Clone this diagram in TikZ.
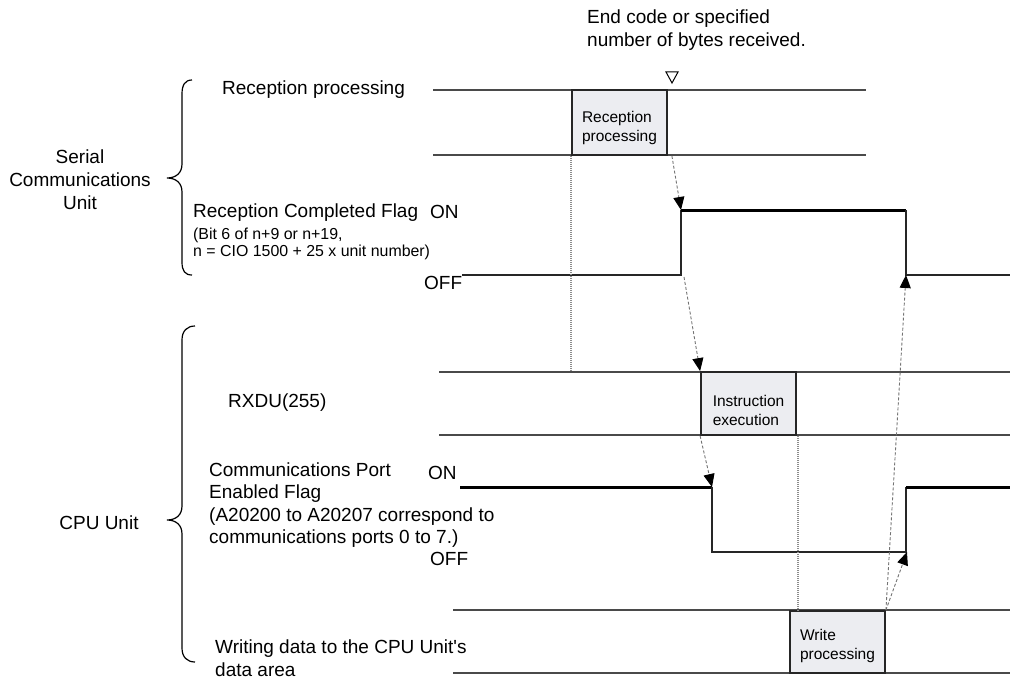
\documentclass[tikz,border=0pt]{standalone}
\usepackage{fontspec}
\setmainfont{Liberation Sans}
\newfontfamily\plainsans{Liberation Sans}
\usetikzlibrary{arrows.meta}
\definecolor{boxfill}{HTML}{ECEDF1}
\definecolor{lin}{HTML}{4A4A4A}
\begin{document}
\begin{tikzpicture}[x=1pt,y=-1pt,
  tl/.style={draw=lin, line width=1.4pt},
  sig/.style={draw=black!85, line width=1.4pt},
  hisig/.style={draw=black, line width=3pt},
  procbox/.style={draw=black!85, fill=boxfill, line width=1.8pt, minimum width=95pt, inner sep=0pt},
  boxtext/.style={font=\fontsize{15.5}{19}\selectfont, align=left, inner sep=0pt},
  lbl/.style={font=\fontsize{19}{22.5}\selectfont, inner sep=0pt, anchor=west, align=left},
  smalllbl/.style={font=\fontsize{15.9}{17}\selectfont, inner sep=0pt, anchor=west},
  darr/.style={draw=black!55, line width=0.9pt, dash pattern=on 3pt off 2pt, -{Triangle[length=13pt,width=11pt,color=black]}},
  dotl/.style={draw=black!45, line width=1.3pt, dash pattern=on 1pt off 1pt},
  brc/.style={draw=black, line width=1.2pt}
]
\useasboundingbox (0,0) rectangle (1012,682);
% signal coordinates
\coordinate (rcRise) at (681,210);
\coordinate (rcRiseLow) at (681,275);
\coordinate (rcFall) at (906,275);
\coordinate (cpuFall) at (712,487);
\coordinate (cpuRiseLow) at (907,552);
% timing lines
\draw[tl] (433,90) -- (866,90);
\draw[tl] (433,155) -- (866,155);
\draw[tl] (439,372) -- (1010,372);
\draw[tl] (439,435) -- (1010,435);
\draw[tl] (453,610) -- (1010,610);
\draw[tl] (453,673) -- (1010,673);
% reception completed flag
\draw[sig] (462,275) -- (rcRiseLow) -- (rcRise);
\draw[hisig] (rcRise) -- (906,210);
\draw[sig] (906,210) -- (rcFall) -- (1010,275);
% communications port enabled flag
\draw[hisig] (460,487) -- (cpuFall);
\draw[sig] (cpuFall) -- (712,552) -- (906,552) -- (906,487);
\draw[hisig] (906,487) -- (1010,487);
% boxes
\node[procbox, minimum height=65pt] (rb) at (619.5,122.5) {};
\node[boxtext] (rbt) at ([yshift=-5pt]rb.center) {Reception\\processing};
\node[procbox, minimum height=63pt] (ib) at (748.5,403.5) {};
\node[boxtext] (ibt) at ([yshift=-7pt]ib.center) {Instruction\\execution};
\node[procbox, minimum height=62pt] (wb) at (837.5,642) {};
\node[boxtext] (wbt) at ([yshift=-4pt]wb.center) {Write\\processing};
% end marker
\draw[line width=1pt] (666,72) -- (678,72) -- (672,83) -- cycle;
\node[lbl] (endtxt) at (587,30) {\fontsize{19}{19.5}\selectfont End code or specified\\number of bytes received.};
% dotted guides
\draw[dotl] (rb.south west) -- (rb.south west |- ib.north);
\draw[dotl] ([xshift=1pt]ib.south east) -- ([xshift=1pt]ib.south east |- wb.north);
% dashed arrows
\draw[darr] ([xshift=4pt]rb.south east) -- (rcRise);
\draw[darr] ([xshift=3pt,yshift=-2pt]rcRiseLow) -- (ib.north west);
\draw[darr] (ib.south west) -- (cpuFall);
\draw[darr] (wb.north east) -- (cpuRiseLow);
\draw[darr] (wb.north east) -- (rcFall);
% labels
\node[lbl] (rp) at (222,90) {Reception processing};
\node[lbl] (rcf) at (193,213) {Reception Completed Flag};
\node[smalllbl] (rcf2) at (193,235) {(Bit 6 of n+9 or n+19,};
\node[smalllbl] (rcf3) at (193,252) {n = CIO 1500 + 25 x unit number)};
\node[lbl] (on1) at (430,212) {ON};
\node[lbl] (off1) at (424,283) {OFF};
\node[lbl] (rx) at (228,403) {RXDU(255)};
\node[lbl] (cpf) at (209,505) {Communications Port\\Enabled Flag\\(A20200 to A20207 correspond to\\communications ports 0 to 7.)};
\node[lbl] (on2) at (428,473) {ON};
\node[lbl] (off2) at (430,559) {OFF};
\node[lbl] (wd) at (215,658) {\plainsans Writing data to the CPU Unit's\\data area};
\node[font=\fontsize{19}{23}\selectfont, align=center, inner sep=0pt] (scu) at (80,180) {Serial\\Communications\\Unit};
\node[font=\fontsize{19}{23}\selectfont, inner sep=0pt] (cpu) at (99,523) {CPU Unit};
% braces
\draw[brc] (192,80) .. controls (185,80) and (182,85) .. (182,94) -- (182,164)
  .. controls (182,173) and (176,178) .. (167,178)
  .. controls (176,178) and (182,183) .. (182,192) -- (182,262)
  .. controls (182,271) and (185,275) .. (192,275);
\draw[brc] (195,326) .. controls (187,326) and (182,331) .. (182,340) -- (182,506)
  .. controls (182,515) and (176,520) .. (167,520)
  .. controls (176,520) and (182,525) .. (182,534) -- (182,648)
  .. controls (182,657) and (187,662) .. (195,662);
\end{tikzpicture}
\end{document}
